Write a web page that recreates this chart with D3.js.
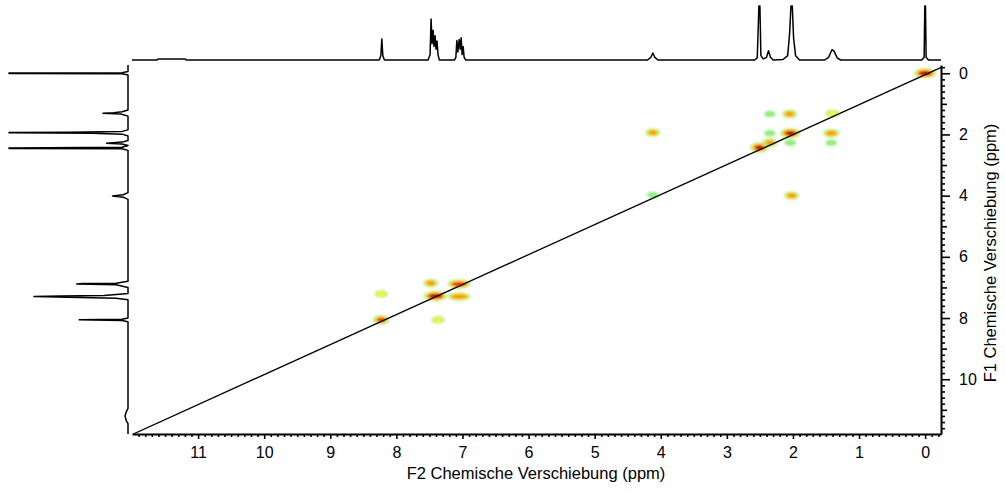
<!DOCTYPE html>
<html><head><meta charset="utf-8">
<script src="https://cdn.jsdelivr.net/npm/d3@7"></script>
<style>
html,body{margin:0;padding:0;background:#fff;}
svg{display:block;font-family:"Liberation Sans",Arial,sans-serif;}
</style></head>
<body><svg id="c" width="1005" height="491"></svg>
<script>
// ---- data ----
const f2Ticks = [0,1,2,3,4,5,6,7,8,9,10,11];
const f1Ticks = [0,2,4,6,8,10];
const f2Title = "F2 Chemische Verschiebung (ppm)";
const f1Title = "F1 Chemische Verschiebung (ppm)";
// top 1D trace (F2): [ppm, relative intensity]
const topTrace = [
 [12.0,0],[11.62,0],[11.6,0.02],[11.2,0.02],[11.18,0],
 [8.26,0],[8.235,0.08],[8.22,0.39],[8.205,0.08],[8.18,0],
 [7.52,0],[7.49,0.1],[7.475,0.76],[7.46,0.3],[7.445,0.55],[7.43,0.25],[7.415,0.45],[7.40,0.2],[7.385,0.35],[7.37,0.1],[7.35,0],
 [7.12,0],[7.10,0.05],[7.085,0.36],[7.07,0.15],[7.05,0.38],[7.035,0.2],[7.02,0.41],[7.005,0.1],[6.99,0.25],[6.975,0.05],[6.95,0],
 [4.2,0],[4.15,0.05],[4.12,0.13],[4.09,0.05],[4.04,0],
 [2.58,0],[2.54,0.04],[2.515,1],[2.50,1],[2.485,0.08],[2.45,0.02],[2.40,0.05],[2.37,0.17],[2.34,0.05],[2.3,0],
 [2.15,0.01],[2.08,0.08],[2.05,0.5],[2.03,1],[2.01,1],[1.99,0.4],[1.96,0.08],[1.9,0],
 [1.52,0],[1.46,0.05],[1.41,0.19],[1.38,0.17],[1.33,0.04],[1.28,0],
 [0.05,0],[0.015,0.05],[0.005,1],[-0.005,1],[-0.015,0.05],[-0.05,0],[-0.24,0]
];
// left 1D trace (F1): [ppm, relative intensity]
const leftTrace = [
 [-0.27,0],[-0.06,0],[-0.015,0.05],[-0.005,1],[0.005,1],[0.015,0.05],[0.06,0],
 [1.2,0],[1.26,0.05],[1.29,0.12],[1.31,0.21],[1.33,0.06],[1.4,0],
 [1.85,0],[1.9,0.05],[1.925,0.5],[1.935,1],[1.945,1],[1.96,0.3],[1.99,0.05],[2.05,0],
 [2.2,0],[2.25,0.05],[2.285,0.18],[2.31,0.05],[2.36,0],[2.42,0.05],[2.445,1],[2.455,1],[2.47,0.05],[2.52,0],
 [3.9,0],[3.97,0.04],[4.01,0.13],[4.05,0.04],[4.12,0],
 [6.8,0],[6.86,0.1],[6.875,0.38],[6.89,0.43],[6.91,0.1],[7.0,0],
 [7.2,0],[7.26,0.2],[7.28,0.57],[7.30,0.79],[7.32,0.5],[7.35,0.1],[7.4,0],
 [8.0,0],[8.04,0.05],[8.06,0.41],[8.08,0.05],[8.12,0],
 [10.95,0],[11.07,0.015],[11.2,0.025],[11.35,0.015],[11.45,0],[11.79,0]
];
// cross peaks: F2 ppm, F1 ppm, contour level count, F2 multiplet span (ppm)
const peakF2    = [8.23,7.48,7.05,7.41,7.05,8.23,7.37, 4.12,2.35,2.05,1.40,2.35,2.04,1.42,2.35,2.04,1.42,2.51,4.12,2.02,0.00];
const peakF1    = [7.21,6.86,6.89,7.28,7.30,8.06,8.06, 1.94,1.33,1.33,1.31,1.96,1.96,1.96,2.27,2.27,2.27,2.43,3.98,4.00,0.00];
const peakLevel = [2,   3,   4,   5,   3,   4,   2,    3,   1,   3,   2,   1,   5,   3,   3,   1,   1,   5,   1,   3,   5];
const peakSpan  = [0,   0,   0.10,0.08,0.12,0,   0,    0,   0,   0,   0.02,0,   0.03,0.02,0,   0,   0,   0,   0,   0,   0.06];
// diagonal line endpoints
const diagF2 = [11.98,-0.26];
const diagF1 = [11.79,-0.21];

// ---- drawing ----
const svg = d3.select("#c");
const x = d3.scaleLinear().domain([12,-0.24]).range([132,941]);
const y = d3.scaleLinear().domain([-0.27,11.79]).range([65,434]);
const topI = d3.scaleLinear().domain([0,1]).range([60,6]).clamp(true);
const leftI = d3.scaleLinear().domain([0,1]).range([128,9]).clamp(true);

const defs = svg.append("defs");
defs.append("filter").attr("id","soft").append("feGaussianBlur").attr("stdDeviation",0.8);
defs.append("clipPath").attr("id","plotclip").append("rect")
  .attr("x",132).attr("y",65).attr("width",809).attr("height",369);

// contours
const colors = ["#8ff07e","#f4f23a","#ff9a10","#ff2800","#b40000"];
const g = svg.append("g").attr("filter","url(#soft)").attr("clip-path","url(#plotclip)");
const peaks = peakF2.map((d,i)=>({f2:d,f1:peakF1[i],lv:peakLevel[i],sp:peakSpan[i]}));
peaks.forEach(p=>{
  const cx = x(p.f2), cy = y(p.f1);
  const spanPx = Math.abs(x(0)-x(p.sp));
  const rx0 = 5.0 + 0.8*p.lv + spanPx/2;
  const ry0 = 2.8 + 0.45*p.lv;
  for(let k=0;k<p.lv;k++){
    const rx = rx0 - k*1.45, ry = ry0 - k*0.85;
    g.append("ellipse").attr("cx",cx).attr("cy",cy)
      .attr("rx",Math.max(rx,1)).attr("ry",Math.max(ry,0.8)).attr("fill",colors[k]);
  }
});

// diagonal
svg.append("line").attr("clip-path","url(#plotclip)")
  .attr("x1",x(diagF2[0])).attr("y1",y(diagF1[0]))
  .attr("x2",x(diagF2[1])).attr("y2",y(diagF1[1]))
  .attr("stroke","#000").attr("stroke-width",1.3);

// 1D traces
svg.append("path").datum(topTrace)
  .attr("d",d3.line().x(d=>x(d[0])).y(d=>topI(d[1])))
  .attr("fill","none").attr("stroke","#000").attr("stroke-width",1.5).attr("stroke-linejoin","round");
svg.append("path").datum(leftTrace)
  .attr("d",d3.line().x(d=>leftI(d[1])).y(d=>y(d[0])))
  .attr("fill","none").attr("stroke","#000").attr("stroke-width",1.5).attr("stroke-linejoin","round");

// bottom axis
const minorF2 = d3.range(-2,121).map(v=>v/10).filter(v=>v>=-0.2 && v<=12.0 && Math.abs(v-Math.round(v))>1e-6);
const bx = svg.append("g").attr("transform","translate(0,434)");
bx.append("g").call(d3.axisBottom(x).tickValues(minorF2).tickSize(3).tickSizeOuter(0).tickFormat(""))
  .call(s=>s.select(".domain").remove());
bx.append("g").call(d3.axisBottom(x).tickValues(f2Ticks).tickSize(5).tickSizeOuter(0).tickPadding(8).tickFormat(d3.format("d")))
  .call(s=>s.selectAll("text").attr("font-size",16).attr("fill","#000").attr("font-family","Liberation Sans, Arial, sans-serif"));
bx.selectAll("line,path").attr("stroke","#000").attr("stroke-width",1.6);
bx.selectAll(".domain").attr("stroke-width",2);

// right axis
const minorF1 = d3.range(-1,59).map(v=>v/5).filter(v=>v>=-0.2 && v<=11.8 && Math.abs(v-Math.round(v))>1e-6);
const oddF1 = [1,3,5,7,9,11];
const ry = svg.append("g").attr("transform","translate(941,0)");
ry.append("g").call(d3.axisRight(y).tickValues(minorF1).tickSize(4).tickSizeOuter(0).tickFormat(""))
  .call(s=>s.select(".domain").remove());
ry.append("g").call(d3.axisRight(y).tickValues(oddF1).tickSize(6).tickSizeOuter(0).tickFormat(""))
  .call(s=>s.select(".domain").remove());
ry.append("g").call(d3.axisRight(y).tickValues(f1Ticks).tickSize(9).tickSizeOuter(0).tickPadding(9).tickFormat(d3.format("d")))
  .call(s=>s.selectAll("text").attr("font-size",16).attr("fill","#000").attr("font-family","Liberation Sans, Arial, sans-serif"));
ry.selectAll("line,path").attr("stroke","#000").attr("stroke-width",1.6);
ry.selectAll(".domain").attr("stroke-width",2);

// titles
svg.append("text").attr("x",536).attr("y",479).attr("text-anchor","middle")
  .attr("font-size",16.5).attr("fill","#000").text(f2Title);
svg.append("text").attr("transform","translate(996,253) rotate(-90)").attr("text-anchor","middle")
  .attr("font-size",16.5).attr("fill","#000").text(f1Title);
</script></body></html>
